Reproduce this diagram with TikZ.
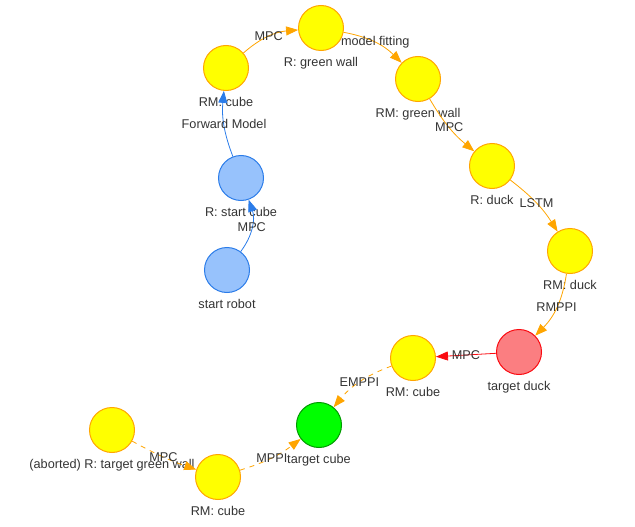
\documentclass[tikz,border=0pt]{standalone}
\usepackage{fontspec}
\setmainfont{Liberation Sans}
\usetikzlibrary{arrows.meta}

\definecolor{ylwfill}{HTML}{FFFF00}
\definecolor{ylwline}{HTML}{FFA500}
\definecolor{blufill}{HTML}{97C2FC}
\definecolor{bluline}{HTML}{2B7CE9}
\definecolor{redfill}{HTML}{FB7E81}
\definecolor{redline}{HTML}{FA0A10}
\definecolor{grnfill}{HTML}{00FF00}
\definecolor{grnline}{HTML}{009900}
\definecolor{txt}{HTML}{343434}

\begin{document}
\begin{tikzpicture}[
    x=1pt, y=-1pt,
    state/.style={circle, minimum size=45pt, inner sep=0pt, line width=1pt},
    ylw/.style={state, draw=ylwline, fill=ylwfill},
    blu/.style={state, draw=bluline, fill=blufill},
    rd/.style={state, draw=redline, fill=redfill},
    grn/.style={state, draw=grnline, fill=grnfill},
    lbl/.style={font=\fontsize{12.7}{15}\selectfont, text=txt, inner sep=0pt, label distance=6.5pt},
    edgelbl/.style={font=\fontsize{12.7}{15}\selectfont, text=txt, inner sep=0pt},
    link/.style={-{Triangle[length=12pt, width=9pt]}, line width=0.8pt},
    dashlink/.style={link, dash pattern=on 5pt off 5pt}
]
\useasboundingbox (0,0) rectangle (635,527);

\node[blu, label={[lbl]below:{start robot}}] (startrobot) at (227,270) {};
\node[blu, label={[lbl]below:{R: start cube}}] (rstartcube) at (241,178) {};
\node[ylw, label={[lbl]below:{RM: cube}}] (rmcubetop) at (226,68) {};
\node[ylw, label={[lbl]below:{R: green wall}}] (rgreenwall) at (321,28) {};
\node[ylw, label={[lbl]below:{RM: green wall}}] (rmgreenwall) at (418,79) {};
\node[ylw, label={[lbl]below:{R: duck}}] (rduck) at (492,166) {};
\node[ylw, label={[lbl]below:{RM: duck}}] (rmduck) at (570,251) {};
\node[rd, label={[lbl]below:{target duck}}] (targetduck) at (519,352) {};
\node[ylw, label={[lbl]below:{RM: cube}}] (rmcubemid) at (413,358) {};
\node[grn, label={[lbl]below:{target cube}}] (targetcube) at (319,425) {};
\node[ylw, label={[lbl]below:{RM: cube}}] (rmcubebot) at (218,477) {};
\node[ylw, label={[lbl]below:{(aborted) R: target green wall}}] (aborted) at (112,430) {};

\draw[link, bluline] (startrobot) to[bend right=28] node[edgelbl] {MPC} (rstartcube);
\draw[link, bluline] (rstartcube) to[bend left=13] node[edgelbl] {Forward Model} (rmcubetop);
\draw[link, ylwline] (rmcubetop) to[bend left=18] node[edgelbl] {MPC} (rgreenwall);
\draw[link, ylwline] (rgreenwall) to[bend left=17] node[edgelbl] {model fitting} (rmgreenwall);
\draw[link, ylwline] (rmgreenwall) to[bend right=10] node[edgelbl] {MPC} (rduck);
\draw[link, ylwline] (rduck) to[bend left=10] node[edgelbl] {LSTM} (rmduck);
\draw[link, ylwline] (rmduck) to[bend left=18] node[edgelbl] {RMPPI} (targetduck);
\draw[link, redline] (targetduck) to node[edgelbl] {MPC} (rmcubemid);
\draw[dashlink, ylwline] (rmcubemid) to[bend right=15] node[edgelbl] {EMPPI} (targetcube);
\draw[dashlink, ylwline] (aborted) to[bend right=5] node[edgelbl] {MPC} (rmcubebot);
\draw[dashlink, ylwline] (rmcubebot) to[bend right=10] node[edgelbl] {MPPI} (targetcube);
\end{tikzpicture}
\end{document}
